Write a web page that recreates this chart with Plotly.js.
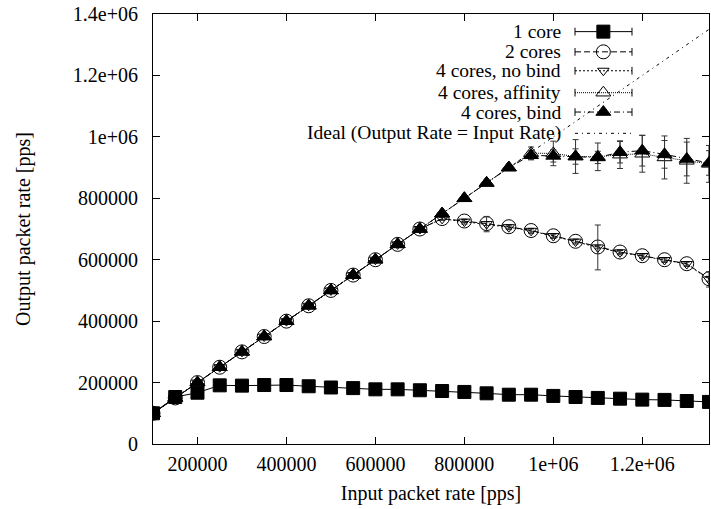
<!DOCTYPE html>
<html>
<head>
<meta charset="utf-8">
<script src="https://cdn.plot.ly/plotly-3.0.1.min.js"></script>
<style>html,body{margin:0;padding:0;background:#fff;}#chart{width:711px;height:509px;}</style>
</head>
<body>
<div id="chart"></div>
<script>
// ---- data ----
const inputRate = [100000,150000,200000,250000,300000,350000,400000,450000,500000,550000,600000,650000,700000,750000,800000,850000,900000,950000,1000000,1050000,1100000,1150000,1200000,1250000,1300000,1350000];
const oneCore = [100000,153000,167000,191000,190000,192000,192000,188000,184000,182000,178000,178000,175000,172500,169500,165000,160500,160500,156500,153000,150000,147500,144500,143500,140000,137000];
const oneCoreErr = [0,0,0,0,0,0,0,0,0,0,0,0,0,0,0,0,0,0,0,0,0,0,0,0,0,0];
const twoCores = [100000,150000,200000,250000,300000,350000,400000,450000,500000,550000,600000,650000,700000,734000,726000,717500,707500,695000,678000,660000,641500,625000,613000,600000,587000,538000];
const twoCoresErr = [0,0,0,0,0,0,0,0,0,0,0,0,0,4000,5000,6000,5000,5000,5000,5000,6000,5000,5000,5000,5000,8000];
const noBind = [100000,150000,200000,250000,300000,350000,400000,450000,500000,550000,600000,650000,700000,733000,724000,716000,706000,694000,677000,659000,640000,624000,612000,599000,586000,536000];
const noBindErr = [0,0,0,0,0,0,0,0,0,0,0,0,0,5000,8000,25000,8000,8000,8000,8000,73000,8000,8000,8000,8000,25000];
const affinity = [100000,150000,200000,250000,300000,350000,400000,450000,500000,550000,600000,650000,700000,750000,800000,850000,900000,947000,946000,936000,935000,942000,945000,933000,922000,912000];
const affinityErr = [0,0,0,0,0,0,0,0,0,0,0,0,0,0,0,0,8000,20000,40000,55000,45000,45000,60000,70000,73000,60000];
const bind = [100000,150000,200000,250000,300000,350000,400000,450000,500000,550000,600000,650000,700000,750000,800000,850000,900000,940000,938000,936000,933000,950000,955000,943000,928000,915000];
const bindErr = [0,0,0,0,0,0,0,0,0,0,0,0,0,0,0,0,5000,15000,20000,25000,20000,35000,50000,45000,55000,40000];
const idealX = [100000,1350000];
const idealY = [100000,1350000];

const seriesNames = ["1 core","2 cores","4 cores, no bind","4 cores, affinity","4 cores, bind","Ideal (Output Rate = Input Rate)"];
const xTickVals = [200000,400000,600000,800000,1000000,1200000];
const xTickText = ["200000","400000","600000","800000","1e+06","1.2e+06"];
const yTickVals = [0,200000,400000,600000,800000,1000000,1200000,1400000];
const yTickText = ["0","200000","400000","600000","800000","1e+06","1.2e+06","1.4e+06"];

// ---- styles ----
const FONT = "Liberation Serif, Times New Roman, serif";
const styles = [
  {dash:"solid", sym:"square", size:13, lw:1, mlw:1},
  {dash:"6px,3px", sym:"circle-open", size:14, lw:1, mlw:1},
  {dash:"2px,2px", sym:"triangle-down-open", size:10, lw:1, mlw:1},
  {dash:"1px,1px", sym:"triangle-up-open", size:13, lw:1, mlw:1},
  {dash:"6px,3px,1px,3px", sym:"triangle-up", size:13, lw:1, mlw:1},
  {dash:"3px,4px,1px,4px", sym:"circle", size:0, lw:1, mlw:0}
];
const ys = [oneCore, twoCores, noBind, affinity, bind];
const errs = [oneCoreErr, twoCoresErr, noBindErr, affinityErr, bindErr];

const traces = [];
for (let i = 0; i < 5; i++) {
  const s = styles[i];
  traces.push({
    type:"scatter", mode:"lines+markers", name:seriesNames[i],
    x: inputRate, y: ys[i],
    line:{color:"#000", width:s.lw, dash:s.dash},
    marker:{symbol:s.sym, size:s.size, color:"#000", opacity:1, line:{color:"#000", width:s.mlw}},
    error_y:{type:"data", array:errs[i], visible:true, color:"#333", thickness:1, width:3},
    showlegend:false, hoverinfo:"skip"
  });
}
traces.push({
  type:"scatter", mode:"lines", name:seriesNames[5],
  x: idealX, y: idealY,
  line:{color:"#000", width:1, dash:styles[5].dash},
  showlegend:false, hoverinfo:"skip"
});

// ---- custom legend (text left of sample, gnuplot style) drawn on a hidden overlay axis ----
const legX0 = 0.759, legX1 = 0.8615, legXm = 0.810, legTextX = 0.735;
const legRowY = [0.959, 0.912, 0.868, 0.817, 0.772, 0.7225];
const capHalf = 0.009;
const annotations = [];
for (let i = 0; i < 6; i++) {
  const s = styles[i];
  const isIdeal = (i === 5);
  const t = {
    type:"scatter", mode: isIdeal ? "lines" : "lines+markers",
    x:[legX0, legXm, legX1], y:[legRowY[i], legRowY[i], legRowY[i]],
    xaxis:"x2", yaxis:"y2",
    line:{color:"#000", width:1, dash:s.dash},
    showlegend:false, hoverinfo:"skip"
  };
  if (!isIdeal) {
    t.marker = {symbol:s.sym, size:[0, s.size, 0], color:"#000", opacity:1, line:{color:"#000", width:[0, s.mlw, 0]}};
    t.error_y = {type:"data", array:[capHalf, 0, capHalf], visible:true, color:"#000", thickness:1, width:0};
  }
  traces.push(t);
  annotations.push({
    xref:"paper", yref:"paper", x:legTextX, y:legRowY[i], xanchor:"right", yanchor:"middle",
    text:seriesNames[i], showarrow:false, borderpad:0, font:{family:FONT, size:19.5, color:"#000"}
  });
}

const layout = {
  width:711, height:509,
  margin:{l:153, r:2, t:14, b:65, pad:0},
  paper_bgcolor:"#fff", plot_bgcolor:"#fff",
  font:{family:FONT, size:20, color:"#000"},
  showlegend:false,
  xaxis:{
    range:[100000,1350000], tickvals:xTickVals, ticktext:xTickText,
    ticks:"inside", ticklen:7, tickwidth:1, tickcolor:"#000",
    showline:true, linecolor:"#000", linewidth:1, mirror:"ticks",
    showgrid:false, zeroline:false, ticklabelstandoff:2,
    title:{text:"Input packet rate [pps]", font:{family:FONT, size:20}, standoff:11}
  },
  yaxis:{
    range:[0,1400000], tickvals:yTickVals, ticktext:yTickText,
    ticks:"inside", ticklen:7, tickwidth:1, tickcolor:"#000",
    showline:true, linecolor:"#000", linewidth:1, mirror:"ticks",
    showgrid:false, zeroline:false, ticklabelstandoff:10,
    title:{text:"Output packet rate [pps]", font:{family:FONT, size:20}, standoff:36}
  },
  xaxis2:{overlaying:"x", anchor:"y2", range:[0,1], visible:false, fixedrange:true},
  yaxis2:{overlaying:"y", anchor:"x2", range:[0,1], visible:false, fixedrange:true},
  annotations: annotations
};

Plotly.newPlot("chart", traces, layout, {staticPlot:true, displayModeBar:false});
</script>
</body>
</html>
